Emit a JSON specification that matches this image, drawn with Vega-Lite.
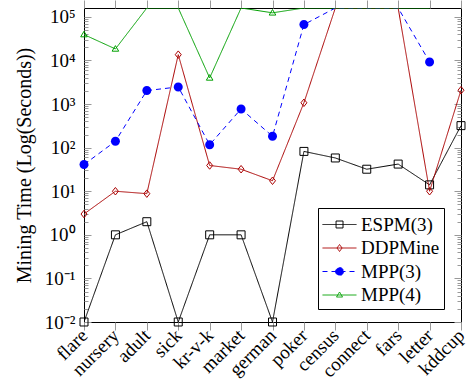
{
  "$schema": "https://vega.github.io/schema/vega-lite/v6.json",
  "width": 377,
  "height": 314,
  "autosize": "none",
  "padding": {"left": 84, "top": 8, "right": 5, "bottom": 62},
  "background": "white",
  "config": {
    "font": "Liberation Serif",
    "axis": {"labelFont": "Liberation Serif", "titleFont": "Liberation Serif"},
    "legend": {"labelFont": "Liberation Serif"},
    "view": {"stroke": "black", "strokeWidth": 1}
  },
  "data": {
    "values": [
      {"dataset": "flare", "series": "ESPM(3)", "time": 0.01},
      {"dataset": "nursery", "series": "ESPM(3)", "time": 1},
      {"dataset": "adult", "series": "ESPM(3)", "time": 2},
      {"dataset": "sick", "series": "ESPM(3)", "time": 0.01},
      {"dataset": "kr-v-k", "series": "ESPM(3)", "time": 1},
      {"dataset": "market", "series": "ESPM(3)", "time": 1},
      {"dataset": "german", "series": "ESPM(3)", "time": 0.01},
      {"dataset": "poker", "series": "ESPM(3)", "time": 82},
      {"dataset": "census", "series": "ESPM(3)", "time": 58},
      {"dataset": "connect", "series": "ESPM(3)", "time": 32},
      {"dataset": "fars", "series": "ESPM(3)", "time": 42},
      {"dataset": "letter", "series": "ESPM(3)", "time": 14},
      {"dataset": "kddcup", "series": "ESPM(3)", "time": 320},
      {"dataset": "flare", "series": "DDPMine", "time": 3},
      {"dataset": "nursery", "series": "DDPMine", "time": 10},
      {"dataset": "adult", "series": "DDPMine", "time": 8.8},
      {"dataset": "sick", "series": "DDPMine", "time": 13600},
      {"dataset": "kr-v-k", "series": "DDPMine", "time": 39},
      {"dataset": "market", "series": "DDPMine", "time": 32},
      {"dataset": "german", "series": "DDPMine", "time": 17.4},
      {"dataset": "poker", "series": "DDPMine", "time": 1070},
      {"dataset": "census", "series": "DDPMine", "time": 160000},
      {"dataset": "connect", "series": "DDPMine", "time": 160000},
      {"dataset": "fars", "series": "DDPMine", "time": 160000},
      {"dataset": "letter", "series": "DDPMine", "time": 10},
      {"dataset": "kddcup", "series": "DDPMine", "time": 2080},
      {"dataset": "flare", "series": "MPP(3)", "time": 41},
      {"dataset": "nursery", "series": "MPP(3)", "time": 140},
      {"dataset": "adult", "series": "MPP(3)", "time": 2040},
      {"dataset": "sick", "series": "MPP(3)", "time": 2475},
      {"dataset": "kr-v-k", "series": "MPP(3)", "time": 117},
      {"dataset": "market", "series": "MPP(3)", "time": 774},
      {"dataset": "german", "series": "MPP(3)", "time": 182},
      {"dataset": "poker", "series": "MPP(3)", "time": 66600},
      {"dataset": "census", "series": "MPP(3)", "time": 160000},
      {"dataset": "connect", "series": "MPP(3)", "time": 160000},
      {"dataset": "fars", "series": "MPP(3)", "time": 160000},
      {"dataset": "letter", "series": "MPP(3)", "time": 9270},
      {"dataset": "flare", "series": "MPP(4)", "time": 39300},
      {"dataset": "nursery", "series": "MPP(4)", "time": 18400},
      {"dataset": "adult", "series": "MPP(4)", "time": 160000},
      {"dataset": "sick", "series": "MPP(4)", "time": 160000},
      {"dataset": "kr-v-k", "series": "MPP(4)", "time": 3980},
      {"dataset": "market", "series": "MPP(4)", "time": 160000},
      {"dataset": "german", "series": "MPP(4)", "time": 124000},
      {"dataset": "poker", "series": "MPP(4)", "time": 160000},
      {"dataset": "census", "series": "MPP(4)", "time": 160000},
      {"dataset": "connect", "series": "MPP(4)", "time": 160000},
      {"dataset": "fars", "series": "MPP(4)", "time": 160000},
      {"dataset": "letter", "series": "MPP(4)", "time": 160000}
    ]
  },
  "layer": [
    {
      "mark": {"type": "line", "strokeWidth": 1, "clip": true},
      "encoding": {
        "x": {
          "field": "dataset", "type": "ordinal",
          "scale": {"type": "point", "padding": 0, "domain": ["flare","nursery","adult","sick","kr-v-k","market","german","poker","census","connect","fars","letter","kddcup"]},
          "axis": {
            "orient": "bottom", "title": null, "domain": false, "grid": false,
            "labelAngle": -45, "labelAlign": "right", "labelBaseline": "middle",
            "labelFontSize": 19, "labelColor": "black", "labelFont": "Liberation Serif",
            "labelPadding": 2, "tickSize": 8, "tickColor": "#999999", "tickWidth": 1,
            "labelOverlap": false, "labelBound": false, "labelFlush": false
          }
        },
        "y": {
          "field": "time", "type": "quantitative",
          "scale": {"type": "log", "domain": [0.01, 160000], "nice": false},
          "axis": {
            "orient": "left", "grid": false, "domain": false,
            "values": [0.01,0.02,0.03,0.04,0.05,0.06,0.07,0.08,0.09,0.1,0.2,0.3,0.4,0.5,0.6,0.7,0.8,0.9,1,2,3,4,5,6,7,8,9,10,20,30,40,50,60,70,80,90,100,200,300,400,500,600,700,800,900,1000,2000,3000,4000,5000,6000,7000,8000,9000,10000,20000,30000,40000,50000,60000,70000,80000,90000,100000],
            "labelExpr": "abs(log(datum.value)/LN10 - round(log(datum.value)/LN10)) < 0.001 ? '10' + (round(log(datum.value)/LN10) < 0 ? '⁻' : '') + ['⁰','¹','²','³','⁴','⁵'][abs(round(log(datum.value)/LN10))] : ''",
            "labelFontSize": 19, "labelColor": "black", "labelFont": "Liberation Serif",
            "labelPadding": 16, "labelOverlap": false, "labelBound": false, "labelFlush": false,
            "tickColor": "#999999", "tickWidth": 1,
            "tickSize": {"condition": {"test": "abs(log(datum.value)/LN10 - round(log(datum.value)/LN10)) < 0.001", "value": -7}, "value": -4},
            "title": "Mining Time (Log(Seconds))", "titleFontSize": 20, "titleFontWeight": "normal",
            "titleColor": "black", "titleFont": "Liberation Serif", "titlePadding": 10
          }
        },
        "color": {
          "field": "series", "type": "nominal",
          "scale": {"domain": ["ESPM(3)","DDPMine","MPP(3)","MPP(4)"], "range": ["#000000","#aa0000","#0000ff","#00a000"]},
          "legend": {
            "orient": "none", "legendX": 234, "legendY": 200, "title": null,
            "padding": 4, "strokeColor": "black", "fillColor": "white", "cornerRadius": 0,
            "labelFont": "Liberation Serif", "labelFontSize": 19, "labelColor": "black",
            "symbolSize": 576, "labelOffset": 14, "rowPadding": 0.5, "symbolStrokeWidth": 1,
            "encode": {
              "symbols": {
                "update": {
                  "shape": {"signal": "datum.value === 'ESPM(3)' ? 'M-1,0H1.83M0.13,-0.29H0.71V0.29H0.13Z' : datum.value === 'DDPMine' ? 'M-1,0H1.83M0.42,-0.29L0.63,0L0.42,0.29L0.21,0Z' : datum.value === 'MPP(3)' ? 'M-1,0H1.83M0.75,0A0.33,0.33,0,1,1,0.09,0A0.33,0.33,0,1,1,0.75,0Z' : 'M-1,0H1.83M0.42,-0.25L0.67,0.17L0.17,0.17Z'"},
                  "fill": {"signal": "datum.value === 'MPP(3)' ? '#0000ff' : 'transparent'"},
                  "strokeDash": {"signal": "datum.value === 'MPP(3)' ? [5,3] : [1,0]"}
                }
              }
            }
          }
        },
        "strokeDash": {
          "field": "series", "type": "nominal",
          "scale": {"domain": ["ESPM(3)","DDPMine","MPP(3)","MPP(4)"], "range": [[1,0],[1,0],[5,4],[1,0]]},
          "legend": null
        }
      }
    },
    {
      "transform": [{"filter": "datum.series === 'ESPM(3)'"}],
      "mark": {"type": "point", "filled": false, "size": 36, "strokeWidth": 1, "opacity": 1, "color": "#000000", "shape": "M-1.33,-1.33H1.33V1.33H-1.33Z"},
      "encoding": {
        "x": {
          "field": "dataset", "type": "ordinal",
          "axis": {"orient": "top", "title": null, "labels": false, "domain": false, "grid": false, "tickSize": 8, "tickColor": "#999999", "tickWidth": 1}
        },
        "y": {
          "field": "time", "type": "quantitative",
          "axis": {
            "orient": "right", "title": null, "labels": false, "domain": false, "grid": false,
            "values": [0.01,0.02,0.03,0.04,0.05,0.06,0.07,0.08,0.09,0.1,0.2,0.3,0.4,0.5,0.6,0.7,0.8,0.9,1,2,3,4,5,6,7,8,9,10,20,30,40,50,60,70,80,90,100,200,300,400,500,600,700,800,900,1000,2000,3000,4000,5000,6000,7000,8000,9000,10000,20000,30000,40000,50000,60000,70000,80000,90000,100000],
            "tickColor": "#999999", "tickWidth": 1,
            "tickSize": {"condition": {"test": "abs(log(datum.value)/LN10 - round(log(datum.value)/LN10)) < 0.001", "value": -7}, "value": -4}
          }
        }
      }
    },
    {
      "transform": [{"filter": "datum.series === 'DDPMine' && datum.time < 160000"}],
      "mark": {"type": "point", "filled": false, "size": 36, "strokeWidth": 1, "opacity": 1, "color": "#aa0000", "shape": "M0,-1.25L1,0L0,1.25L-1,0Z"},
      "encoding": {
        "x": {"field": "dataset", "type": "ordinal", "axis": null},
        "y": {"field": "time", "type": "quantitative", "axis": null}
      }
    },
    {
      "transform": [{"filter": "datum.series === 'MPP(3)' && datum.time < 160000"}],
      "mark": {"type": "point", "filled": true, "size": 36, "opacity": 1, "color": "#0000ff", "shape": "M1.5,0A1.5,1.5,0,1,1,-1.5,0A1.5,1.5,0,1,1,1.5,0Z"},
      "encoding": {
        "x": {"field": "dataset", "type": "ordinal", "axis": null},
        "y": {"field": "time", "type": "quantitative", "axis": null}
      }
    },
    {
      "transform": [{"filter": "datum.series === 'MPP(4)' && datum.time < 160000"}],
      "mark": {"type": "point", "filled": false, "size": 36, "strokeWidth": 1, "opacity": 1, "color": "#00a000", "shape": "M0,-1.1L1.1,0.75L-1.1,0.75Z"},
      "encoding": {
        "x": {"field": "dataset", "type": "ordinal", "axis": null},
        "y": {"field": "time", "type": "quantitative", "axis": null}
      }
    }
  ],
  "resolve": {"axis": {"x": "independent", "y": "independent"}}
}
